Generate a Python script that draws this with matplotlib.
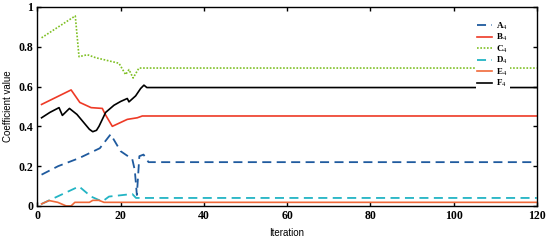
import matplotlib.pyplot as plt

# iteration / value pairs
a_x = [1, 5, 10, 15, 17.6, 20, 22.8, 23.4, 23.9, 24.5, 25.5, 26.7, 120]
a_y = [0.157, 0.20, 0.24, 0.29, 0.36, 0.275, 0.235, 0.18, 0.055, 0.25, 0.258, 0.22, 0.22]

b_x = [1, 8.1, 10.2, 12.9, 15.6, 16.3, 18, 21.6, 24, 25.2, 120]
b_y = [0.51, 0.583, 0.52, 0.494, 0.49, 0.46, 0.40, 0.435, 0.443, 0.452, 0.452]

c_x = [1, 9.1, 10, 12, 14, 19.6, 21.2, 22, 23, 24.4, 120]
c_y = [0.845, 0.955, 0.75, 0.76, 0.745, 0.717, 0.66, 0.685, 0.643, 0.693, 0.693]

d_x = [1, 10, 12.9, 15.6, 17.2, 22.8, 23.7, 120]
d_y = [0.01, 0.098, 0.047, 0.022, 0.047, 0.06, 0.04, 0.04]

e_x = [1, 2.8, 4.9, 6.9, 8.1, 9, 12.5, 13.3, 14.8, 16, 120]
e_y = [0.01, 0.027, 0.018, 0.0, 0.0, 0.018, 0.018, 0.028, 0.028, 0.018, 0.018]

f_x = [1, 3, 5.2, 6, 7.7, 9.5, 11.5, 12.5, 13.3, 14.2, 14.8, 16.4, 18.4, 20, 21.6, 22, 23.6, 24.8, 25.6, 26.3, 120]
f_y = [0.443, 0.47, 0.494, 0.455, 0.49, 0.46, 0.41, 0.385, 0.373, 0.38, 0.40, 0.47, 0.506, 0.525, 0.54, 0.523, 0.553, 0.59, 0.607, 0.595, 0.595]

labels = ["A$_4$", "B$_4$", "C$_4$", "D$_4$", "E$_4$", "F$_4$"]
x_ticks = [0, 20, 40, 60, 80, 100, 120]
y_ticks = [0, 0.2, 0.4, 0.6, 0.8, 1]
y_tick_labels = ["0", "0.2", "0.4", "0.6", "0.8", "1"]

plt.rcParams['mathtext.fontset'] = 'custom'
plt.rcParams['mathtext.rm'] = 'Liberation Serif'

fig = plt.figure(figsize=(5.5, 2.4), dpi=100)
ax = fig.add_axes([0.068, 0.142, 0.908, 0.829])

ax.plot(a_x, a_y, color="#1f5a9e", lw=1.3, ls=(0, (5, 3)), label=labels[0])
ax.plot(b_x, b_y, color="#ee3a26", lw=1.2, label=labels[1])
ax.plot(c_x, c_y, color="#7fc024", lw=1.2, ls=(0, (1, 1)), label=labels[2])
ax.plot(d_x, d_y, color="#22b4c4", lw=1.3, ls=(0, (5, 3)), label=labels[3])
ax.plot(e_x, e_y, color="#f06a3a", lw=1.2, label=labels[4])
ax.plot(f_x, f_y, color="black", lw=1.2, label=labels[5])

ax.set_xlim(0, 120)
ax.set_ylim(0, 1)
ax.set_xticks(x_ticks)
ax.set_yticks(y_ticks)
ax.set_yticklabels(y_tick_labels)
ax.tick_params(direction="in", top=True, right=True, length=3, width=1, pad=3)
for lab in ax.get_xticklabels() + ax.get_yticklabels():
    lab.set_fontfamily("Liberation Serif")
    lab.set_fontweight("bold")
    lab.set_fontsize(8.5)
for s in ax.spines.values():
    s.set_linewidth(1)

ax.set_xlabel("Iteration", fontfamily="Liberation Sans", fontsize=7)
ax.set_ylabel("Coefficient value", fontfamily="Liberation Sans", fontsize=7)

leg = ax.legend(loc="upper right", bbox_to_anchor=(0.955, 0.965),
                handlelength=1.6, handletextpad=0.5, labelspacing=0.0, borderpad=0.2,
                frameon=True, fancybox=False, framealpha=1,
                prop={"family": "Liberation Serif", "weight": "bold", "size": 6.5})
leg.get_frame().set_edgecolor("none")

fig.savefig("out.png", dpi=100)
